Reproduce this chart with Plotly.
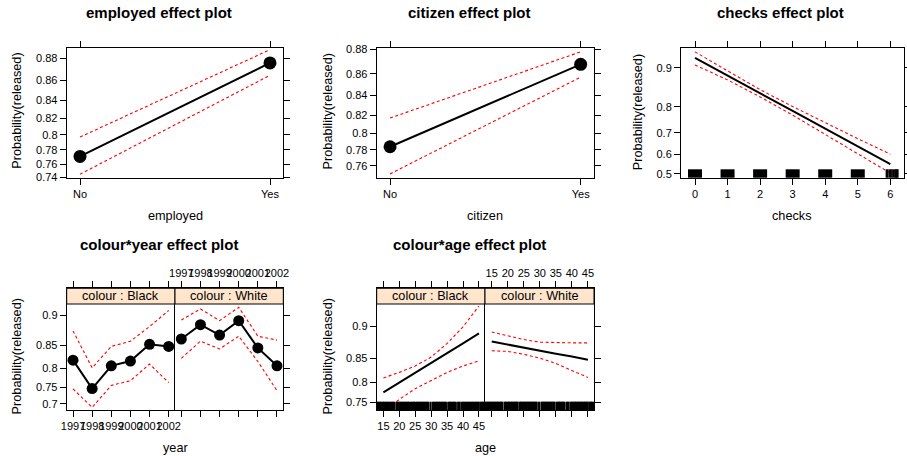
import math
import plotly.graph_objects as go

W, H = 907, 456
FONT = "Liberation Sans, Arial, Helvetica, sans-serif"
STRIP_FILL = "#FFE5CC"

# ---------------- data (probabilities of release) ----------------
employed_levels = ["No", "Yes"]
employed_fit = [0.771, 0.876]
employed_lower = [0.745, 0.865]
employed_upper = [0.797, 0.887]

citizen_levels = ["No", "Yes"]
citizen_fit = [0.784, 0.868]
citizen_lower = [0.749, 0.857]
citizen_upper = [0.817, 0.878]

checks_x = [0, 1, 2, 3, 4, 5, 6]
checks_fit = [0.917, 0.885, 0.842, 0.786, 0.718, 0.638, 0.550]
checks_lower = [0.905, 0.875, 0.831, 0.771, 0.693, 0.601, 0.503]
checks_upper = [0.926, 0.8935, 0.851, 0.801, 0.742, 0.674, 0.600]
checks_rug_blocks = [0, 1, 2, 3, 4, 5]
checks_rug_lines = [5.88, 5.92, 5.97, 6.01, 6.05, 6.09, 6.14, 6.17, 6.20, 6.23]

years = [1997, 1998, 1999, 2000, 2001, 2002]
year_black_fit = [0.819, 0.746, 0.806, 0.817, 0.852, 0.848]
year_black_lower = [0.745, 0.688, 0.755, 0.768, 0.810, 0.763]
year_black_upper = [0.876, 0.801, 0.848, 0.858, 0.883, 0.906]
year_white_fit = [0.862, 0.886, 0.869, 0.892, 0.845, 0.806]
year_white_lower = [0.823, 0.858, 0.843, 0.867, 0.816, 0.740]
year_white_upper = [0.893, 0.908, 0.892, 0.910, 0.867, 0.860]

ages = [15, 20, 25, 30, 35, 40, 45]
age_black_fit = [0.776, 0.800, 0.821, 0.841, 0.859, 0.875, 0.890]
age_black_lower = [0.724, 0.758, 0.785, 0.805, 0.822, 0.835, 0.845]
age_black_upper = [0.810, 0.822, 0.835, 0.852, 0.875, 0.899, 0.923]
age_white_fit = [0.878, 0.873, 0.868, 0.863, 0.858, 0.853, 0.847]
age_white_lower = [0.863, 0.862, 0.857, 0.850, 0.840, 0.826, 0.811]
age_white_upper = [0.892, 0.887, 0.881, 0.877, 0.876, 0.876, 0.876]
age_rug = [13.0, 13.4, 13.9, 14.3, 14.8, 15.2, 15.7, 16.1, 16.6, 17.0, 17.5,
           17.9, 18.3, 19.1, 19.5, 20.0, 20.4, 20.9, 21.3, 21.8, 22.2, 22.7,
           23.0, 23.7, 24.1, 24.6, 25.0, 25.5, 25.9, 26.4, 26.8, 27.3, 27.7,
           28.2, 28.6, 29.0, 29.8, 30.6, 31.0, 31.5, 31.9, 32.4, 32.8, 33.3,
           33.7, 34.2, 34.6, 35.4, 35.9, 36.3, 36.8, 37.2, 37.7, 38.5, 38.9,
           39.6, 40.1, 40.5, 41.0, 41.4, 41.9, 42.3, 42.8, 43.2, 43.7, 44.1,
           44.6, 44.9, 45.5, 45.9, 46.3, 46.8]

colour_levels = ["Black", "White"]

# tick labels on the probability (logit) scale
ticks_employed = [0.74, 0.76, 0.78, 0.80, 0.82, 0.84, 0.86, 0.88]
ticks_employed_text = ["0.74", "0.76", "0.78", "0.8", "0.82", "0.84", "0.86", "0.88"]
ticks_citizen = [0.76, 0.78, 0.80, 0.82, 0.84, 0.86, 0.88]
ticks_citizen_text = ["0.76", "0.78", "0.8", "0.82", "0.84", "0.86", "0.88"]
ticks_checks = [0.5, 0.6, 0.7, 0.8, 0.9]
ticks_checks_text = ["0.5", "0.6", "0.7", "0.8", "0.9"]
ticks_year = [0.70, 0.75, 0.80, 0.85, 0.90]
ticks_year_text = ["0.7", "0.75", "0.8", "0.85", "0.9"]
ticks_age = [0.75, 0.80, 0.85, 0.90]
ticks_age_text = ["0.75", "0.8", "0.85", "0.9"]
age_ticks = [15, 20, 25, 30, 35, 40, 45]


def logit(p):
    return math.log(p / (1.0 - p))


def L(vals):
    return [logit(v) for v in vals]


def xdom(left, right):
    return [left / W, right / W]


def ydom(top, bottom):
    return [1 - bottom / H, 1 - top / H]


TICKFONT = dict(family=FONT, size=11, color="black")
base_axis = dict(showline=True, linecolor="black", linewidth=1,
                 ticks="outside", ticklen=6, tickwidth=1, tickcolor="black",
                 showgrid=False, zeroline=False, tickfont=TICKFONT,
                 tickangle=0, fixedrange=True, automargin=False)

fig = go.Figure()


def add_effect(xs, fit, lower, upper, xa, ya, markers=False, msize=12):
    for band in (upper, lower):
        fig.add_trace(go.Scatter(x=xs, y=L(band), mode="lines", xaxis=xa, yaxis=ya,
                                 line=dict(color="red", width=1.1, dash="3px,2.5px"),
                                 showlegend=False, hoverinfo="skip"))
    fig.add_trace(go.Scatter(x=xs, y=L(fit), mode="lines+markers" if markers else "lines",
                             xaxis=xa, yaxis=ya,
                             line=dict(color="black", width=2),
                             marker=dict(color="black", size=msize),
                             showlegend=False))


add_effect(employed_levels, employed_fit, employed_lower, employed_upper, "x", "y", True, 13)
add_effect(citizen_levels, citizen_fit, citizen_lower, citizen_upper, "x2", "y2", True, 13)
add_effect(checks_x, checks_fit, checks_lower, checks_upper, "x3", "y3")
add_effect(years, year_black_fit, year_black_lower, year_black_upper, "x4", "y4", True, 11)
add_effect(years, year_white_fit, year_white_lower, year_white_upper, "x5", "y5", True, 11)
add_effect(ages, age_black_fit, age_black_lower, age_black_upper, "x6", "y6")
add_effect(ages, age_white_fit, age_white_lower, age_white_upper, "x7", "y7")

layout = dict(width=W, height=H, margin=dict(l=0, r=0, t=0, b=0, autoexpand=False),
              template="none",
              paper_bgcolor="white", plot_bgcolor="white", showlegend=False,
              font=dict(family=FONT, color="black"))

# top row: employed, citizen, checks
TOP, BOT = 48.3, 177.7
layout["xaxis"] = dict(base_axis, domain=xdom(66.7, 283.3), anchor="y", mirror="ticks",
                       type="category", range=[-0.07, 1.07])
layout["yaxis"] = dict(base_axis, domain=ydom(TOP, BOT), anchor="x", mirror="ticks",
                       range=[logit(0.7398), logit(0.8881)],
                       tickvals=L(ticks_employed), ticktext=ticks_employed_text)
layout["xaxis2"] = dict(base_axis, domain=xdom(376.7, 594), anchor="y2", mirror="ticks",
                        type="category", range=[-0.07, 1.07])
layout["yaxis2"] = dict(base_axis, domain=ydom(TOP, BOT), anchor="x2", mirror="ticks",
                        range=[logit(0.7438), logit(0.8807)],
                        tickvals=L(ticks_citizen), ticktext=ticks_citizen_text)
layout["xaxis3"] = dict(base_axis, domain=xdom(681, 904), anchor="y3", mirror="ticks",
                        range=[-0.43, 6.42], tickvals=checks_x,
                        ticktext=[str(v) for v in checks_x])
layout["yaxis3"] = dict(base_axis, domain=ydom(TOP, BOT), anchor="x3", mirror="ticks",
                        range=[logit(0.4793), logit(0.9309)],
                        tickvals=L(ticks_checks), ticktext=ticks_checks_text)

# bottom row: conditioned panels (axis box includes the strip)
STOP, SBOT, PBOT = 288.3, 304.0, 410.0


def cond_axes(n_left, n_right, x_left, x_mid, x_right, xrange, xt, xtt, yrange, yt, ytt):
    a, b = n_left, n_right
    layout[f"xaxis{a}"] = dict(base_axis, domain=xdom(x_left, x_mid), anchor=f"y{a}",
                               mirror="ticks", side="bottom", range=xrange,
                               tickvals=xt, ticktext=xtt)
    layout[f"xaxis{b}"] = dict(base_axis, domain=xdom(x_mid, x_right), anchor=f"y{b}",
                               mirror="ticks", side="top", range=xrange,
                               tickvals=xt, ticktext=xtt)
    layout[f"yaxis{a}"] = dict(base_axis, domain=ydom(STOP, PBOT), anchor=f"x{a}",
                               mirror=False, side="left", range=yrange,
                               tickvals=yt, ticktext=ytt)
    layout[f"yaxis{b}"] = dict(base_axis, domain=ydom(STOP, PBOT), anchor=f"x{b}",
                               mirror=True, side="right", range=yrange,
                               tickvals=yt, ticktext=ytt, showticklabels=False)


cond_axes(4, 5, 66.7, 175, 283.3, [1996.67, 2002.33], years, [str(y) for y in years],
          [0.7513, 2.6036], L(ticks_year), ticks_year_text)
cond_axes(6, 7, 376.7, 485, 594, [12.9, 46.9], age_ticks, [str(a) for a in age_ticks],
          [0.9886, 2.7396], L(ticks_age), ticks_age_text)

shapes = []
# strips
for x0, x1, in [(66.7, 175), (175, 283.3), (376.7, 485), (485, 594)]:
    shapes.append(dict(type="rect", xref="paper", yref="paper", layer="above",
                       x0=x0 / W, x1=x1 / W, y0=1 - SBOT / H, y1=1 - STOP / H,
                       fillcolor=STRIP_FILL, line=dict(color="black", width=1)))

# rugs
RUG_CHECKS = 8.4 / (BOT - TOP)
for c in checks_rug_blocks:
    shapes.append(dict(type="rect", xref="x3", yref="y3 domain", x0=c - 0.215, x1=c + 0.215,
                       y0=0, y1=RUG_CHECKS, fillcolor="black", line=dict(width=0)))
for c in checks_rug_lines:
    shapes.append(dict(type="line", xref="x3", yref="y3 domain", x0=c, x1=c,
                       y0=0, y1=RUG_CHECKS, line=dict(color="black", width=1.6)))
RUG_AGE = 8.3 / (PBOT - STOP)
for ax in ("6", "7"):
    for a in age_rug:
        shapes.append(dict(type="line", xref=f"x{ax}", yref=f"y{ax} domain", x0=a, x1=a,
                           y0=0, y1=RUG_AGE, line=dict(color="black", width=2.3)))
layout["shapes"] = shapes

annotations = []


def text(x, y, s, size, bold=False, angle=0):
    annotations.append(dict(x=x / W, y=1 - y / H, xref="paper", yref="paper", text=s,
                            showarrow=False, xanchor="center", yanchor="middle",
                            textangle=angle,
                            font=dict(family=FONT, size=size, color="black",
                                      weight="bold" if bold else "normal")))


TITLE, LAB = 15, 12.7
text(159, 12.7, "employed effect plot", TITLE, True)
text(470, 12.7, "citizen effect plot", TITLE, True)
text(780.3, 12.7, "checks effect plot", TITLE, True)
text(159, 245, "colour*year effect plot", TITLE, True)
text(470, 245, "colour*age effect plot", TITLE, True)

text(175, 216, "employed", LAB)
text(484.7, 216, "citizen", LAB)
text(792.3, 216, "checks", LAB)
text(175.3, 448.3, "year", LAB)
text(485.8, 448.3, "age", LAB)

for x, y in [(16.7, 111), (327.7, 111.7), (637.7, 112.5), (16.7, 356.7), (327.7, 356.7)]:
    text(x, y, "Probability(released)", LAB, angle=-90)

for (x0, x1), lvl in zip([(66.7, 175), (175, 283.3)], colour_levels):
    text((x0 + x1) / 2, (STOP + SBOT) / 2, f"colour : {lvl}", LAB)
for (x0, x1), lvl in zip([(376.7, 485), (485, 594)], colour_levels):
    text((x0 + x1) / 2, (STOP + SBOT) / 2, f"colour : {lvl}", LAB)

layout["annotations"] = annotations
fig.update_layout(**layout)
fig.write_html("out.html")
